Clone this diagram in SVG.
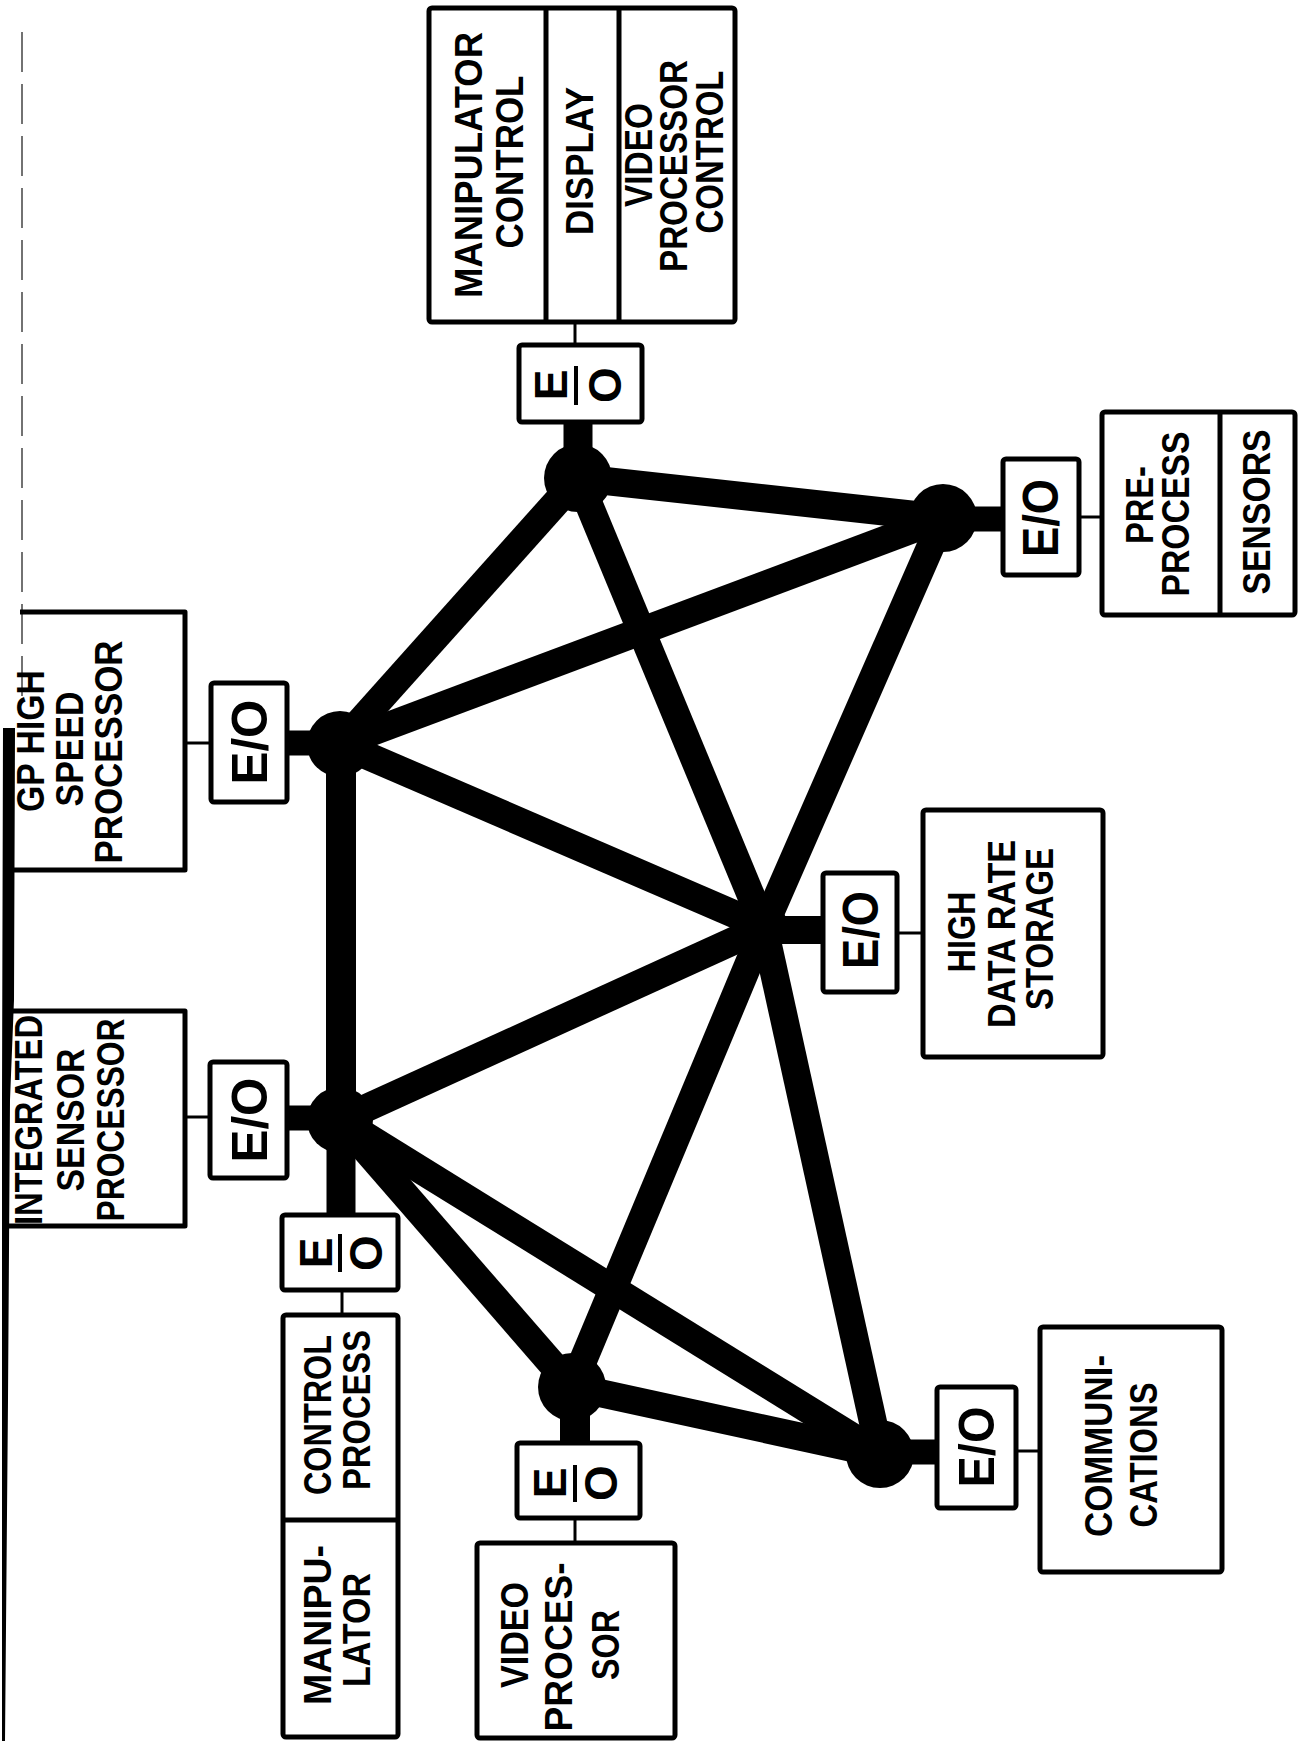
<svg xmlns="http://www.w3.org/2000/svg" width="1300" height="1741" viewBox="0 0 1300 1741">
<style>
.box{fill:#fff;stroke:#000;stroke-width:5;stroke-linejoin:round}
.open{fill:none;stroke:#000;stroke-width:5;stroke-linejoin:round}
.div{stroke:#000;stroke-width:5}
.bar{stroke:#000;stroke-width:4}
.thin{stroke:#000;stroke-width:3;fill:none}
.edge{stroke:#000;stroke-width:28;stroke-linecap:butt}
.stub{stroke:#000;stroke-linecap:butt}
.hub{fill:#000}
.lbl{font-family:"Liberation Sans",Arial,Helvetica,sans-serif;font-weight:bold;font-size:38px;text-anchor:middle;fill:#000}
.eo{font-family:"Liberation Sans",Arial,Helvetica,sans-serif;font-weight:bold;font-size:50px;text-anchor:middle;fill:#000}
.frac{font-family:"Liberation Sans",Arial,Helvetica,sans-serif;font-weight:bold;font-size:46px;text-anchor:middle;fill:#000}
</style>
<rect x="0" y="0" width="1300" height="1741" fill="#fff"/>

<!-- page edge artifacts -->
<g id="page-edge">
<line x1="22" y1="32" x2="22" y2="700" stroke="#444" stroke-width="1.5" stroke-dasharray="40 12"/>
<polygon points="3,728 15,728 14,1000 10,1100 8,1400 5,1741 2,1741 2,1100" fill="#000"/>
</g>

<!-- connectors -->
<g id="connectors">
<line class="edge" x1="578" y1="478" x2="943" y2="518"/>
<line class="edge" x1="578" y1="478" x2="340" y2="744"/>
<line class="edge" x1="578" y1="478" x2="764" y2="927"/>
<line class="edge" x1="943" y1="518" x2="340" y2="744"/>
<line class="edge" x1="943" y1="518" x2="764" y2="927"/>
<line class="edge" x1="340" y1="744" x2="764" y2="927"/>
<line class="edge" x1="341" y1="744" x2="341" y2="1120" style="stroke-width:30"/>
<line class="edge" x1="764" y1="927" x2="340" y2="1120"/>
<line class="edge" x1="764" y1="927" x2="572" y2="1387"/>
<line class="edge" x1="764" y1="927" x2="880" y2="1454"/>
<line class="edge" x1="340" y1="1120" x2="572" y2="1387"/>
<line class="edge" x1="340" y1="1120" x2="880" y2="1454"/>
<line class="edge" x1="572" y1="1387" x2="880" y2="1454"/>
<!-- stubs to E/O -->
<line class="stub" x1="578" y1="478" x2="578" y2="422" stroke-width="29"/>
<line class="stub" x1="943" y1="519" x2="1003" y2="519" stroke-width="25"/>
<line class="stub" x1="340" y1="743" x2="287" y2="743" stroke-width="25"/>
<line class="stub" x1="764" y1="930" x2="823" y2="930" stroke-width="28"/>
<line class="stub" x1="340" y1="1118" x2="287" y2="1118" stroke-width="25"/>
<line class="stub" x1="341" y1="1120" x2="341" y2="1215" stroke-width="29"/>
<line class="stub" x1="575" y1="1387" x2="575" y2="1443" stroke-width="30"/>
<line class="stub" x1="880" y1="1452" x2="937" y2="1452" stroke-width="25"/>
<!-- thin links E/O to units -->
<line class="thin" x1="575" y1="322" x2="575" y2="345"/>
<line class="thin" x1="185" y1="743" x2="211" y2="743"/>
<line class="thin" x1="185" y1="1117" x2="210" y2="1117"/>
<line class="thin" x1="342" y1="1290" x2="342" y2="1315"/>
<line class="thin" x1="575" y1="1518" x2="575" y2="1543"/>
<line class="thin" x1="1079" y1="517" x2="1102" y2="517"/>
<line class="thin" x1="897" y1="933" x2="923" y2="933"/>
<line class="thin" x1="1016" y1="1451" x2="1040" y2="1451"/>
</g>

<!-- hubs -->
<g id="hub-top"><circle class="hub" cx="578" cy="478" r="34"/></g>
<g id="hub-sensors"><circle class="hub" cx="943" cy="518" r="34"/></g>
<g id="hub-gp"><circle class="hub" cx="340" cy="744" r="33"/></g>
<g id="hub-storage"><circle class="hub" cx="764" cy="927" r="24"/></g>
<g id="hub-isp"><circle class="hub" cx="340" cy="1120" r="33"/></g>
<g id="hub-video"><circle class="hub" cx="572" cy="1387" r="34"/></g>
<g id="hub-comm"><circle class="hub" cx="880" cy="1454" r="34"/></g>

<!-- top unit -->
<g id="unit-top">
<rect class="box" x="429" y="8" width="306" height="314" rx="3"/>
<line class="div" x1="546" y1="8" x2="546" y2="322"/>
<line class="div" x1="619" y1="8" x2="619" y2="322"/>
<text class="lbl" transform="translate(468 165) rotate(-90)" y="14" textLength="266" lengthAdjust="spacingAndGlyphs">MANIPULATOR</text>
<text class="lbl" transform="translate(509 162) rotate(-90)" y="14" textLength="173" lengthAdjust="spacingAndGlyphs">CONTROL</text>
<text class="lbl" transform="translate(579 161) rotate(-90)" y="14" textLength="148" lengthAdjust="spacingAndGlyphs">DISPLAY</text>
<text class="lbl" transform="translate(638 155) rotate(-90)" y="14" textLength="104" lengthAdjust="spacingAndGlyphs">VIDEO</text>
<text class="lbl" transform="translate(673 166) rotate(-90)" y="14" textLength="212" lengthAdjust="spacingAndGlyphs">PROCESSOR</text>
<text class="lbl" transform="translate(709 152) rotate(-90)" y="14" textLength="163" lengthAdjust="spacingAndGlyphs">CONTROL</text>
</g>
<g id="eo-top">
<rect class="box" x="519" y="345" width="123" height="77" rx="3"/>
<text class="frac" transform="translate(551 385) rotate(-90)" y="16">E</text>
<line class="bar" x1="576" y1="366" x2="576" y2="405"/>
<text class="frac" transform="translate(605 385) rotate(-90)" y="16">O</text>
</g>

<!-- GP high speed processor -->
<g id="unit-gp">
<path class="open" d="M20,612 H185 V870 H8"/>
<text class="lbl" transform="translate(30 741) rotate(-90)" y="14" textLength="142" lengthAdjust="spacingAndGlyphs">GP HIGH</text>
<text class="lbl" transform="translate(69 749) rotate(-90)" y="14" textLength="115" lengthAdjust="spacingAndGlyphs">SPEED</text>
<text class="lbl" transform="translate(108 752) rotate(-90)" y="14" textLength="223" lengthAdjust="spacingAndGlyphs">PROCESSOR</text>
</g>
<g id="eo-gp">
<rect class="box" x="211" y="683" width="76" height="119" rx="3"/>
<text class="eo" transform="translate(249 742) rotate(-90)" y="18" textLength="85" lengthAdjust="spacingAndGlyphs">E/O</text>
</g>

<!-- integrated sensor processor -->
<g id="unit-isp">
<path class="open" d="M8,1011 H185 V1226 H8"/>
<text class="lbl" transform="translate(28 1120) rotate(-90)" y="14" textLength="210" lengthAdjust="spacingAndGlyphs">INTEGRATED</text>
<text class="lbl" transform="translate(70 1120) rotate(-90)" y="14" textLength="143" lengthAdjust="spacingAndGlyphs">SENSOR</text>
<text class="lbl" transform="translate(110 1120) rotate(-90)" y="14" textLength="203" lengthAdjust="spacingAndGlyphs">PROCESSOR</text>
</g>
<g id="eo-isp">
<rect class="box" x="210" y="1062" width="77" height="116" rx="3"/>
<text class="eo" transform="translate(249 1120) rotate(-90)" y="18" textLength="85" lengthAdjust="spacingAndGlyphs">E/O</text>
</g>

<!-- control process / manipulator -->
<g id="eo-control">
<rect class="box" x="282" y="1215" width="116" height="75" rx="3"/>
<text class="frac" transform="translate(316 1253) rotate(-90)" y="16">E</text>
<line class="bar" x1="340" y1="1234" x2="340" y2="1272"/>
<text class="frac" transform="translate(366 1253) rotate(-90)" y="16">O</text>
</g>
<g id="unit-control">
<rect class="box" x="283" y="1315" width="115" height="422" rx="3"/>
<line class="div" x1="283" y1="1520" x2="398" y2="1520"/>
<text class="lbl" transform="translate(317 1415) rotate(-90)" y="14" textLength="160" lengthAdjust="spacingAndGlyphs">CONTROL</text>
<text class="lbl" transform="translate(356 1410) rotate(-90)" y="14" textLength="160" lengthAdjust="spacingAndGlyphs">PROCESS</text>
<text class="lbl" transform="translate(317 1625) rotate(-90)" y="14" textLength="160" lengthAdjust="spacingAndGlyphs">MANIPU-</text>
<text class="lbl" transform="translate(356 1630) rotate(-90)" y="14" textLength="114" lengthAdjust="spacingAndGlyphs">LATOR</text>
</g>

<!-- video processor -->
<g id="eo-video">
<rect class="box" x="517" y="1443" width="123" height="75" rx="3"/>
<text class="frac" transform="translate(550 1483) rotate(-90)" y="16">E</text>
<line class="bar" x1="575" y1="1465" x2="575" y2="1502"/>
<text class="frac" transform="translate(601 1483) rotate(-90)" y="16">O</text>
</g>
<g id="unit-video">
<rect class="box" x="477" y="1543" width="198" height="195" rx="3"/>
<text class="lbl" transform="translate(514 1635) rotate(-90)" y="14" textLength="106" lengthAdjust="spacingAndGlyphs">VIDEO</text>
<text class="lbl" transform="translate(558 1647) rotate(-90)" y="14" textLength="169" lengthAdjust="spacingAndGlyphs">PROCES-</text>
<text class="lbl" transform="translate(605 1645) rotate(-90)" y="14" textLength="70" lengthAdjust="spacingAndGlyphs">SOR</text>
</g>

<!-- high data rate storage -->
<g id="eo-storage">
<rect class="box" x="823" y="873" width="74" height="119" rx="3"/>
<text class="eo" transform="translate(860 930) rotate(-90)" y="18" textLength="78" lengthAdjust="spacingAndGlyphs">E/O</text>
</g>
<g id="unit-storage">
<rect class="box" x="923" y="810" width="180" height="247" rx="3"/>
<text class="lbl" transform="translate(961 932) rotate(-90)" y="14" textLength="81" lengthAdjust="spacingAndGlyphs">HIGH</text>
<text class="lbl" transform="translate(1001 934) rotate(-90)" y="14" textLength="188" lengthAdjust="spacingAndGlyphs">DATA RATE</text>
<text class="lbl" transform="translate(1039 929) rotate(-90)" y="14" textLength="162" lengthAdjust="spacingAndGlyphs">STORAGE</text>
</g>

<!-- sensors -->
<g id="eo-sensors">
<rect class="box" x="1003" y="459" width="76" height="116" rx="3"/>
<text class="eo" transform="translate(1040 518) rotate(-90)" y="18" textLength="78" lengthAdjust="spacingAndGlyphs">E/O</text>
</g>
<g id="unit-sensors">
<rect class="box" x="1102" y="412" width="193" height="203" rx="3"/>
<line class="div" x1="1220" y1="412" x2="1220" y2="615"/>
<text class="lbl" transform="translate(1139 505) rotate(-90)" y="14" textLength="78" lengthAdjust="spacingAndGlyphs">PRE-</text>
<text class="lbl" transform="translate(1175 514) rotate(-90)" y="14" textLength="165" lengthAdjust="spacingAndGlyphs">PROCESS</text>
<text class="lbl" transform="translate(1256 512) rotate(-90)" y="14" textLength="165" lengthAdjust="spacingAndGlyphs">SENSORS</text>
</g>

<!-- communications -->
<g id="eo-comm">
<rect class="box" x="937" y="1387" width="79" height="121" rx="3"/>
<text class="eo" transform="translate(976 1447) rotate(-90)" y="18" textLength="81" lengthAdjust="spacingAndGlyphs">E/O</text>
</g>
<g id="unit-comm">
<rect class="box" x="1040" y="1327" width="182" height="245" rx="3"/>
<text class="lbl" transform="translate(1098 1446) rotate(-90)" y="14" textLength="182" lengthAdjust="spacingAndGlyphs">COMMUNI-</text>
<text class="lbl" transform="translate(1143 1455) rotate(-90)" y="14" textLength="145" lengthAdjust="spacingAndGlyphs">CATIONS</text>
</g>
</svg>
